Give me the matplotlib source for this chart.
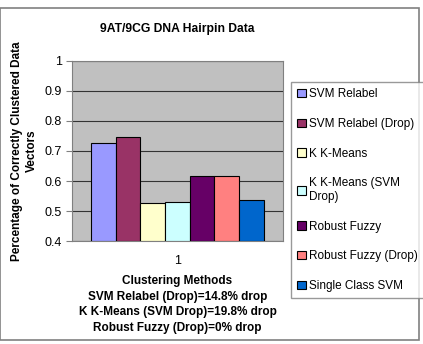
import matplotlib.pyplot as plt
import matplotlib.patches as mpatches
import numpy as np

plt.rcParams['font.family'] = ['Liberation Sans', 'DejaVu Sans']

# data
methods = ['SVM Relabel', 'SVM Relabel (Drop)', 'K K-Means', 'K K-Means (SVM\nDrop)',
           'Robust Fuzzy', 'Robust Fuzzy (Drop)', 'Single Class SVM']
scores = [0.727, 0.745, 0.527, 0.531, 0.617, 0.617, 0.537]
colors = ['#9999FF', '#993366', '#FFFFCC', '#CCFFFF', '#660066', '#FF8080', '#0066CC']
yticks = [0.4, 0.5, 0.6, 0.7, 0.8, 0.9, 1]
xlabel = ('Clustering Methods\nSVM Relabel (Drop)=14.8% drop\n'
          'K K-Means (SVM Drop)=19.8% drop\nRobust Fuzzy (Drop)=0% drop')

fig = plt.figure(figsize=(4.23, 3.44), dpi=100)
ax = fig.add_axes([0.170, 0.2994, 0.499, 0.5233])
ax.set_facecolor('#C0C0C0')

# border round the whole chart
fig.patches.append(mpatches.Rectangle((0.0, 0.012), 0.990, 0.965, transform=fig.transFigure,
                                      fill=False, edgecolor='#808080', lw=1.2))

w = 0.117
n = len(scores)
xs = 1 + (np.arange(n) - (n - 1) / 2) * w
for x, s, c, lab in zip(xs, scores, colors, methods):
    ax.bar(x, s - 0.4, bottom=0.4, width=w, color=c, edgecolor='black', lw=0.8, label=lab, zorder=3)

ax.set_xlim(0.5, 1.5)
ax.set_ylim(0.4, 1.0)
ax.set_yticks(yticks)
ax.set_yticklabels(['0.4', '0.5', '0.6', '0.7', '0.8', '0.9', '1'], fontsize=9)
ax.set_xticks([1])
ax.set_xticklabels(['1'], fontsize=9)
ax.tick_params(axis='x', length=0, pad=10)
ax.tick_params(axis='y', length=4, color='#808080', pad=3)
ax.grid(axis='y', color='#333333', lw=0.8, zorder=1)
for sp in ['top', 'right', 'left', 'bottom']:
    ax.spines[sp].set_color('#808080')

ax.set_title('9AT/9CG DNA Hairpin Data', fontsize=8.7, fontweight='bold', pad=21)
ax.set_ylabel('Percentage of Correctly Clustered Data\nVectors', fontsize=8.5,
              fontweight='bold', labelpad=5, linespacing=1.3)
ax.set_xlabel(xlabel, fontsize=8.5, fontweight='bold', linespacing=1.4, labelpad=6)

leg = fig.legend(loc='upper left', bbox_to_anchor=(0.689, 0.761), fontsize=8.5,
                 frameon=True, fancybox=False, edgecolor='#808080', labelspacing=1.5,
                 handlelength=0.7, handleheight=0.7, handletextpad=0.3, borderpad=0.5,
                 borderaxespad=0)
leg.get_frame().set_linewidth(1.0)

plt.savefig('out.png', dpi=100)
